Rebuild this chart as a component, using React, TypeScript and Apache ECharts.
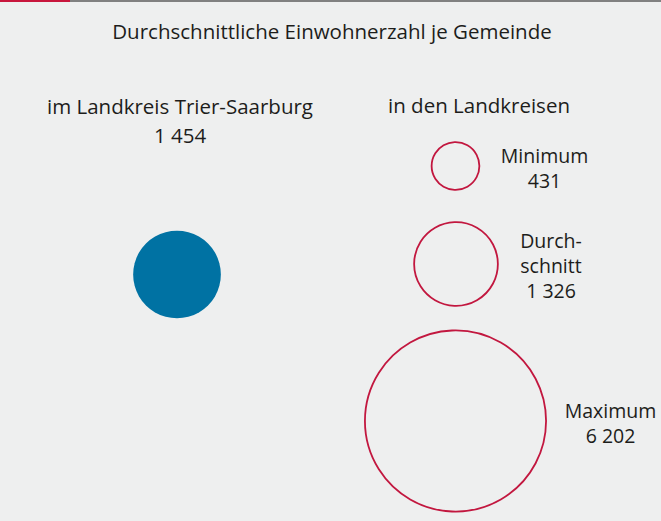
import React, { useEffect, useRef } from "react";
import * as echarts from "echarts";

// ---- data ----
const title = "Durchschnittliche Einwohnerzahl je Gemeinde";
const kreisHeader = "im Landkreis Trier-Saarburg";
const kreisValue = 1454;
const landkreiseHeader = "in den Landkreisen";
const landkreiseCategories = ["Minimum", "Durch-\nschnitt", "Maximum"];
const landkreiseValues = [431, 1326, 6202];

// ---- layout (pixel positions, separate from data) ----
const W = 661;
const H = 521;
const SCALE = 1.15; // radius per sqrt(value)
const kreisPos = [177, 274.5];
const landkreisePos = [
  [455.5, 166],
  [456, 264],
  [455.5, 421],
];
const landkreiseLabelOffset = [
  [89, 1.5],
  [95, 1.5],
  [155, 1.5],
];

const FONT = "'Open Sans', 'Noto Sans', sans-serif";
const FS = 20.5;
const FS_LABEL = 19.5;
const TEXT = "#1d1d1b";
const RED = "#c2173f";
const BLUE = "#0072a3";
const BG = "#eeefef";

const fmt = (v: number) => String(v).replace(/\B(?=(\d{3})+(?!\d))/g, " ");

export default function App() {
  const ref = useRef<HTMLDivElement>(null);
  useEffect(() => {
    if (!ref.current) return;
    const chart = echarts.init(ref.current, null, { renderer: "svg" });
    chart.setOption({
      animation: false,
      backgroundColor: BG,
      textStyle: { fontFamily: FONT },
      grid: { left: 0, right: 0, top: 0, bottom: 0 },
      xAxis: { type: "value", min: 0, max: W, show: false },
      yAxis: { type: "value", min: 0, max: H, inverse: true, show: false },
      graphic: [
        { type: "rect", shape: { x: 0, y: 0, width: 70, height: 2 }, style: { fill: "#c8163c" } },
        { type: "rect", shape: { x: 70, y: 0, width: W - 70, height: 2 }, style: { fill: "#808080" } },
        {
          type: "text",
          x: 332,
          y: 31,
          style: {
            text: title,
            font: `${FS}px ${FONT}`,
            fill: TEXT,
            textAlign: "center",
            textVerticalAlign: "middle",
          },
        },
        {
          type: "text",
          x: 479,
          y: 105,
          style: {
            text: landkreiseHeader,
            font: `${FS}px ${FONT}`,
            fill: TEXT,
            textAlign: "center",
            textVerticalAlign: "middle",
          },
        },
      ],
      series: [
        {
          type: "scatter",
          symbol: "circle",
          symbolSize: (val: number[]) => 2 * SCALE * Math.sqrt(val[2]),
          itemStyle: { color: BLUE, opacity: 1 },
          emphasis: { disabled: true },
          label: {
            show: true,
            position: "inside",
            offset: [3, -154],
            align: "center",
            verticalAlign: "middle",
            color: TEXT,
            opacity: 1,
            fontSize: FS,
            lineHeight: 29,
            fontFamily: FONT,
            formatter: (p: any) => `${p.name}\n${fmt(p.value[2])}`,
          },
          data: [{ name: kreisHeader, value: [kreisPos[0], kreisPos[1], kreisValue] }],
        },
        {
          type: "scatter",
          symbol: "circle",
          symbolSize: (val: number[]) => 2 * SCALE * Math.sqrt(val[2]),
          itemStyle: { color: "rgba(0,0,0,0)", borderColor: RED, borderWidth: 1.8, opacity: 1 },
          emphasis: { disabled: true },
          label: {
            show: true,
            position: "inside",
            align: "center",
            verticalAlign: "middle",
            color: TEXT,
            opacity: 1,
            fontSize: FS_LABEL,
            lineHeight: 25,
            fontFamily: FONT,
            formatter: (p: any) => `${p.name}\n${fmt(p.value[2])}`,
          },
          data: landkreiseCategories.map((c, i) => ({
            name: c,
            value: [landkreisePos[i][0], landkreisePos[i][1], landkreiseValues[i]],
            label: { offset: landkreiseLabelOffset[i] },
          })),
        },
      ],
    });
    return () => chart.dispose();
  }, []);
  return (
    <div
      ref={ref}
      style={{ position: "absolute", left: 0, top: 0, width: W, height: H }}
    />
  );
}
